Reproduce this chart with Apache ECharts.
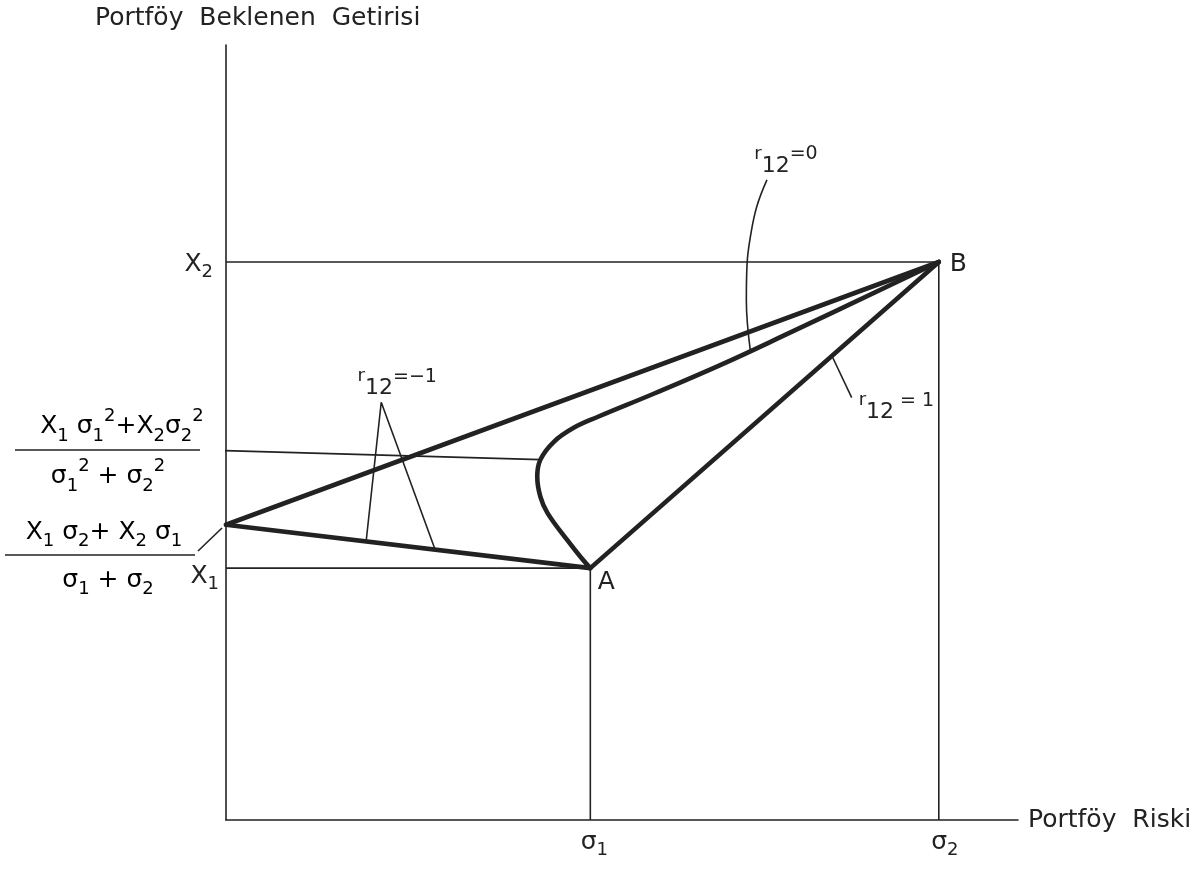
<!DOCTYPE html>
<html>
<head>
<meta charset="utf-8">
<script src="https://cdn.jsdelivr.net/npm/echarts@6/dist/echarts.min.js"></script>
<style>
  html, body { margin: 0; padding: 0; background: #ffffff; }
  #chart { width: 1203px; height: 870px; }
</style>
</head>
<body>
<div id="chart"></div>
<script>
// Two securities: risk (σ) and expected return (X)
const assetRisk = [46, 90];        // σ1, σ2
const assetReturn = [32.5, 72];    // X1, X2

// r12 = -1: the riskless mix sits on the return axis
const hedgedReturn = 38.1;

// r12 = 0: portfolio risk / return from A round to B
const zeroCorrCurve = [
  [46.0, 32.5], [44.8, 33.9], [43.1, 36.1], [40.6, 39.6], [39.7, 41.7],
  [39.3, 44.3], [39.7, 46.5], [41.4, 48.8], [43.9, 50.6], [46.9, 52.0],
  [54.0, 55.0], [62.4, 58.7], [70.0, 62.3], [90.0, 72.0]
];

// level of the minimum-variance portfolio, read across to the return axis
const minVarLevel = [[39.7, 46.5], [-1.6, 47.7]];

// leader lines for the correlation labels
const leaderMinusOne = [[17.7, 36.0], [19.6, 53.9], [26.4, 34.9]];
const leaderZero = [[68.3, 82.6], [67.0, 79.1], [66.2, 75.2], [65.8, 71.9], [65.7, 67.1], [66.2, 60.6]];
const leaderOne = [[76.5, 59.9], [79.0, 54.5]];

const FONT = 'DejaVu Sans';
const INK = '#222222';

const chart = echarts.init(document.getElementById('chart'), null, { renderer: 'canvas' });

function thin(data, smooth) {
  return {
    type: 'line', data: data, symbol: 'none', clip: false, silent: true,
    smooth: smooth || false,
    lineStyle: { color: INK, width: 1.6 }, z: 2
  };
}
function thick(data, smooth) {
  return {
    type: 'line', data: data, symbol: 'none', clip: false, silent: true,
    smooth: smooth || false,
    lineStyle: { color: INK, width: 4.6, join: 'round', cap: 'round' }, z: 3
  };
}

// rich-text styles for subscripts and superscripts
const richBase = {
  v: { fontFamily: FONT, fontSize: 25, color: INK },
  s: { fontFamily: FONT, fontSize: 18, color: INK, verticalAlign: 'bottom' },
  p: { fontFamily: FONT, fontSize: 18, color: INK, verticalAlign: 'top' }
};
const richR = {
  r: { fontFamily: FONT, fontSize: 18, color: INK, verticalAlign: 'top' },
  s: { fontFamily: FONT, fontSize: 22, color: INK, verticalAlign: 'bottom' },
  e: { fontFamily: FONT, fontSize: 19, color: INK, verticalAlign: 'top' }
};

function labelPoint(pt, text, opts) {
  return {
    type: 'scatter', symbolSize: 0, clip: false, silent: true, z: 5,
    itemStyle: { opacity: 1, color: INK },
    data: [pt],
    label: Object.assign({
      show: true, formatter: text, color: INK, fontFamily: FONT, opacity: 1,
      lineHeight: 34, rich: richBase
    }, opts)
  };
}

const A = [assetRisk[0], assetReturn[0]];
const B = [assetRisk[1], assetReturn[1]];
const hedged = [0, hedgedReturn];

const series = [
  // guide lines to the axes
  thin([[0, assetReturn[1]], B]),
  thin([B, [assetRisk[1], 0]]),
  thin([[0, assetReturn[0]], A]),
  thin([A, [assetRisk[0], 0]]),
  thin(minVarLevel),
  // leaders
  thin(leaderMinusOne),
  thin(leaderZero, 0.4),
  thin(leaderOne),
  // r12 = -1 frontier
  thick([hedged, B]),
  thick([hedged, A]),
  // r12 = +1 frontier
  thick([A, B]),
  // r12 = 0 frontier
  thick(zeroCorrCurve, 0.4),

  // point and axis labels
  labelPoint(A, '{v|A}', { position: 'bottom', offset: [16, -8] }),
  labelPoint(B, '{v|B}', { position: 'right', offset: [6, 2] }),
  labelPoint([0, assetReturn[1]], '{v|X}{s|2}', { position: 'left', offset: [-8, 2] }),
  labelPoint([0, assetReturn[0]], '{v|X}{s|1}', { position: 'left', offset: [-2, 8] }),
  labelPoint([assetRisk[0], 0], '{v|σ}{s|1}', { position: 'bottom', offset: [4, 0] }),
  labelPoint([assetRisk[1], 0], '{v|σ}{s|2}', { position: 'bottom', offset: [6, 0] }),

  // correlation labels at the ends of their leaders
  labelPoint(leaderMinusOne[1], '{r|r}{s|12}{e|=−1}', { position: 'top', offset: [16, 2], rich: richR, lineHeight: 32 }),
  labelPoint(leaderZero[0], '{r|r}{s|12}{e|=0}', { position: 'top', offset: [19, 2], rich: richR, lineHeight: 32 }),
  labelPoint(leaderOne[1], '{r|r}{s|12}{e| = 1}', { position: 'right', offset: [2, 10], rich: richR, lineHeight: 32 })
];

chart.setOption({
  animation: false,
  backgroundColor: '#ffffff',
  grid: { left: 226, right: 185, top: 45, bottom: 50, containLabel: false },
  xAxis: {
    type: 'value', min: 0, max: 100,
    axisLine: { show: true, lineStyle: { color: INK, width: 1.6 } },
    axisTick: { show: false }, axisLabel: { show: false }, splitLine: { show: false },
    name: 'Portföy  Riski', nameLocation: 'end', nameGap: 10,
    nameTextStyle: { fontFamily: FONT, fontSize: 25, color: INK, verticalAlign: 'middle', padding: [4, 0, 0, 0] }
  },
  yAxis: {
    type: 'value', min: 0, max: 100,
    axisLine: { show: true, lineStyle: { color: INK, width: 1.6 } },
    axisTick: { show: false }, axisLabel: { show: false }, splitLine: { show: false }
  },
  graphic: [
    // vertical axis title
    { type: 'text', left: 95, top: 6,
      style: { text: 'Portföy  Beklenen  Getirisi', font: '25px "DejaVu Sans"', fill: INK } },
    // minimum-variance return: (X1σ1² + X2σ2²) / (σ1² + σ2²)
    { type: 'text', x: 122, y: 426,
      style: { text: '{v|X}{s|1}{v| σ}{s|1}{p|2}{v|+X}{s|2}{v|σ}{s|2}{p|2}', rich: richBase,
               align: 'center', verticalAlign: 'middle', lineHeight: 38 } },
    { type: 'line', shape: { x1: 15, y1: 450, x2: 200, y2: 450 }, style: { stroke: INK, lineWidth: 1.6 } },
    { type: 'text', x: 108, y: 476,
      style: { text: '{v|σ}{s|1}{p|2}{v| + σ}{s|2}{p|2}', rich: richBase,
               align: 'center', verticalAlign: 'middle', lineHeight: 38 } },
    // riskless return for r12 = -1: (X1σ2 + X2σ1) / (σ1 + σ2)
    { type: 'text', x: 104, y: 532,
      style: { text: '{v|X}{s|1}{v| σ}{s|2}{v|+ X}{s|2}{v| σ}{s|1}', rich: richBase,
               align: 'center', verticalAlign: 'middle', lineHeight: 36 } },
    { type: 'line', shape: { x1: 5, y1: 555, x2: 195, y2: 555 }, style: { stroke: INK, lineWidth: 1.6 } },
    { type: 'line', shape: { x1: 198, y1: 551, x2: 222, y2: 528 }, style: { stroke: INK, lineWidth: 1.6 } },
    { type: 'text', x: 108, y: 580,
      style: { text: '{v|σ}{s|1}{v| + σ}{s|2}', rich: richBase,
               align: 'center', verticalAlign: 'middle', lineHeight: 36 } }
  ],
  series: series
});
</script>
</body>
</html>
